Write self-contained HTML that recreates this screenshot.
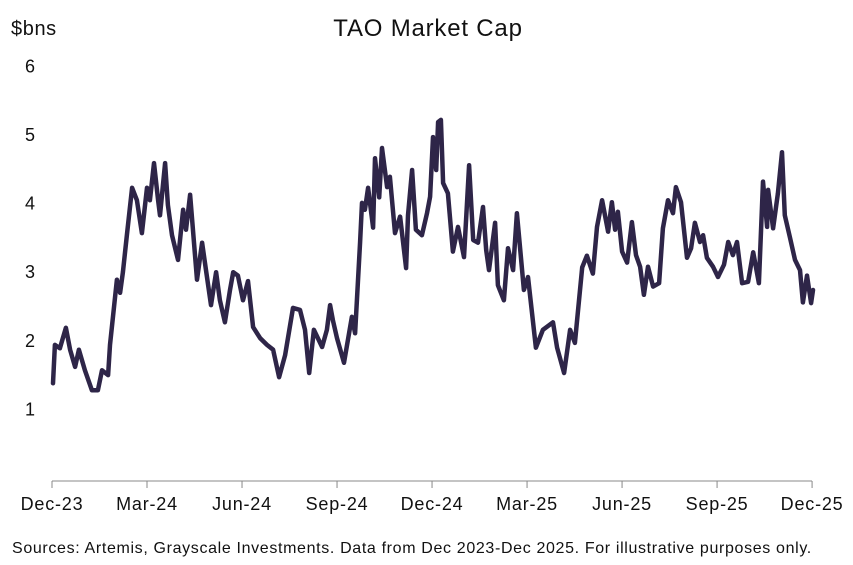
<!DOCTYPE html>
<html><head><meta charset="utf-8"><style>
html,body{margin:0;padding:0;background:#fff;}
svg{display:block;font-family:"Liberation Sans",sans-serif;}
</style></head><body>
<svg id="chart" width="853" height="565">
<text x="428" y="36" text-anchor="middle" font-size="24" letter-spacing="0.8" fill="#111">TAO Market Cap</text>
<text x="11" y="35" font-size="20" letter-spacing="0.6" fill="#111">$bns</text>
<g id="yaxis"></g>
<g id="xaxis"></g>
<path id="line" fill="none" stroke="#2e2548" stroke-width="4.5" stroke-linejoin="round" stroke-linecap="round"/>
<text x="12" y="553" font-size="16" letter-spacing="0.65" fill="#111">Sources: Artemis, Grayscale Investments. Data from Dec 2023-Dec 2025. For illustrative purposes only.</text>
</svg>
<script>
const xTickLabels=["Dec-23","Mar-24","Jun-24","Sep-24","Dec-24","Mar-25","Jun-25","Sep-25","Dec-25"];
const yTickValues=[1,2,3,4,5,6];
const months=[0.03,0.09,0.25,0.44,0.57,0.73,0.85,1.04,1.26,1.45,1.58,1.77,1.83,2.05,2.15,2.24,2.37,2.53,2.68,2.84,3.00,3.09,3.22,3.35,3.41,3.57,3.66,3.79,3.98,4.14,4.23,4.36,4.58,4.74,4.86,5.02,5.18,5.30,5.46,5.62,5.72,5.87,6.03,6.19,6.35,6.57,6.79,6.98,7.17,7.36,7.61,7.83,7.99,8.12,8.27,8.53,8.68,8.78,8.87,9.00,9.22,9.47,9.57,9.73,9.79,9.88,9.98,10.14,10.20,10.33,10.42,10.58,10.67,10.83,10.99,11.18,11.24,11.37,11.49,11.68,11.84,11.94,12.03,12.13,12.19,12.28,12.35,12.50,12.66,12.82,13.01,13.17,13.30,13.45,13.61,13.71,13.80,13.99,14.08,14.27,14.40,14.56,14.68,14.90,15.03,15.28,15.50,15.82,15.95,16.17,16.36,16.51,16.74,16.89,17.08,17.21,17.37,17.56,17.68,17.78,17.87,18.00,18.16,18.31,18.44,18.57,18.69,18.82,18.98,19.17,19.29,19.45,19.61,19.70,19.86,20.05,20.18,20.30,20.46,20.56,20.68,20.87,21.03,21.22,21.35,21.50,21.63,21.79,21.98,22.14,22.32,22.45,22.58,22.61,22.77,22.92,23.05,23.14,23.30,23.46,23.62,23.71,23.84,23.97,24.03];
const values=[1.38,1.94,1.89,2.19,1.87,1.62,1.87,1.57,1.28,1.28,1.57,1.50,1.94,2.89,2.70,3.00,3.57,4.23,4.05,3.57,4.23,4.05,4.59,4.05,3.83,4.59,3.98,3.54,3.18,3.91,3.62,4.13,2.89,3.43,3.04,2.52,3.00,2.59,2.27,2.74,3.00,2.95,2.59,2.87,2.20,2.04,1.94,1.87,1.47,1.79,2.48,2.45,2.16,1.53,2.16,1.91,2.16,2.52,2.30,2.04,1.68,2.35,2.11,3.44,4.01,3.91,4.23,3.65,4.66,4.09,4.81,4.24,4.39,3.57,3.81,3.06,3.83,4.49,3.62,3.54,3.86,4.10,4.97,4.49,5.19,5.22,4.30,4.15,3.30,3.66,3.22,4.56,3.47,3.43,3.95,3.32,3.03,3.72,2.81,2.59,3.35,3.03,3.86,2.74,2.93,1.90,2.16,2.27,1.90,1.53,2.16,1.97,3.07,3.24,2.98,3.66,4.05,3.59,4.02,3.62,3.88,3.30,3.14,3.73,3.25,3.08,2.67,3.08,2.79,2.84,3.64,4.05,3.86,4.24,4.02,3.21,3.35,3.72,3.44,3.54,3.21,3.08,2.93,3.11,3.44,3.25,3.44,2.84,2.86,3.29,2.84,4.32,3.66,4.20,3.64,4.15,4.75,3.83,3.51,3.18,3.03,2.56,2.95,2.55,2.74];
const NS="http://www.w3.org/2000/svg";
function xs(m){return 52+m*31.67;}
function ys(v){return 478-v*68.6;}
const yax=document.getElementById('yaxis');
yTickValues.forEach(v=>{
  const t=document.createElementNS(NS,'text');
  
  
  t.setAttribute('x',30);t.setAttribute('y',ys(v)+6);
  t.setAttribute('text-anchor','middle');t.setAttribute('font-size','18');t.setAttribute('fill','#111');
  t.textContent=v;yax.appendChild(t);
});
const xax=document.getElementById('xaxis');
const ax=document.createElementNS(NS,'line');


ax.setAttribute('x1',52);ax.setAttribute('x2',812);ax.setAttribute('y1',481);ax.setAttribute('y2',481);
ax.setAttribute('stroke','#888');ax.setAttribute('stroke-width','1');xax.appendChild(ax);
xTickLabels.forEach((lab,i)=>{
  const x=xs(i*3);
  const tk=document.createElementNS(NS,'line');
  
  
  tk.setAttribute('x1',x);tk.setAttribute('x2',x);tk.setAttribute('y1',481);tk.setAttribute('y2',488);
  tk.setAttribute('stroke','#888');xax.appendChild(tk);
  const t=document.createElementNS(NS,'text');
  
  
  t.setAttribute('x',x);t.setAttribute('y',510);t.setAttribute('text-anchor','middle');
  t.setAttribute('font-size','18');t.setAttribute('letter-spacing','0.8');t.setAttribute('fill','#111');t.textContent=lab;xax.appendChild(t);
});
let d='';
months.forEach((m,i)=>{d+=(i?'L':'M')+xs(m).toFixed(1)+','+ys(values[i]).toFixed(1);});
document.getElementById('line').setAttribute('d',d);
</script>
</body></html>
